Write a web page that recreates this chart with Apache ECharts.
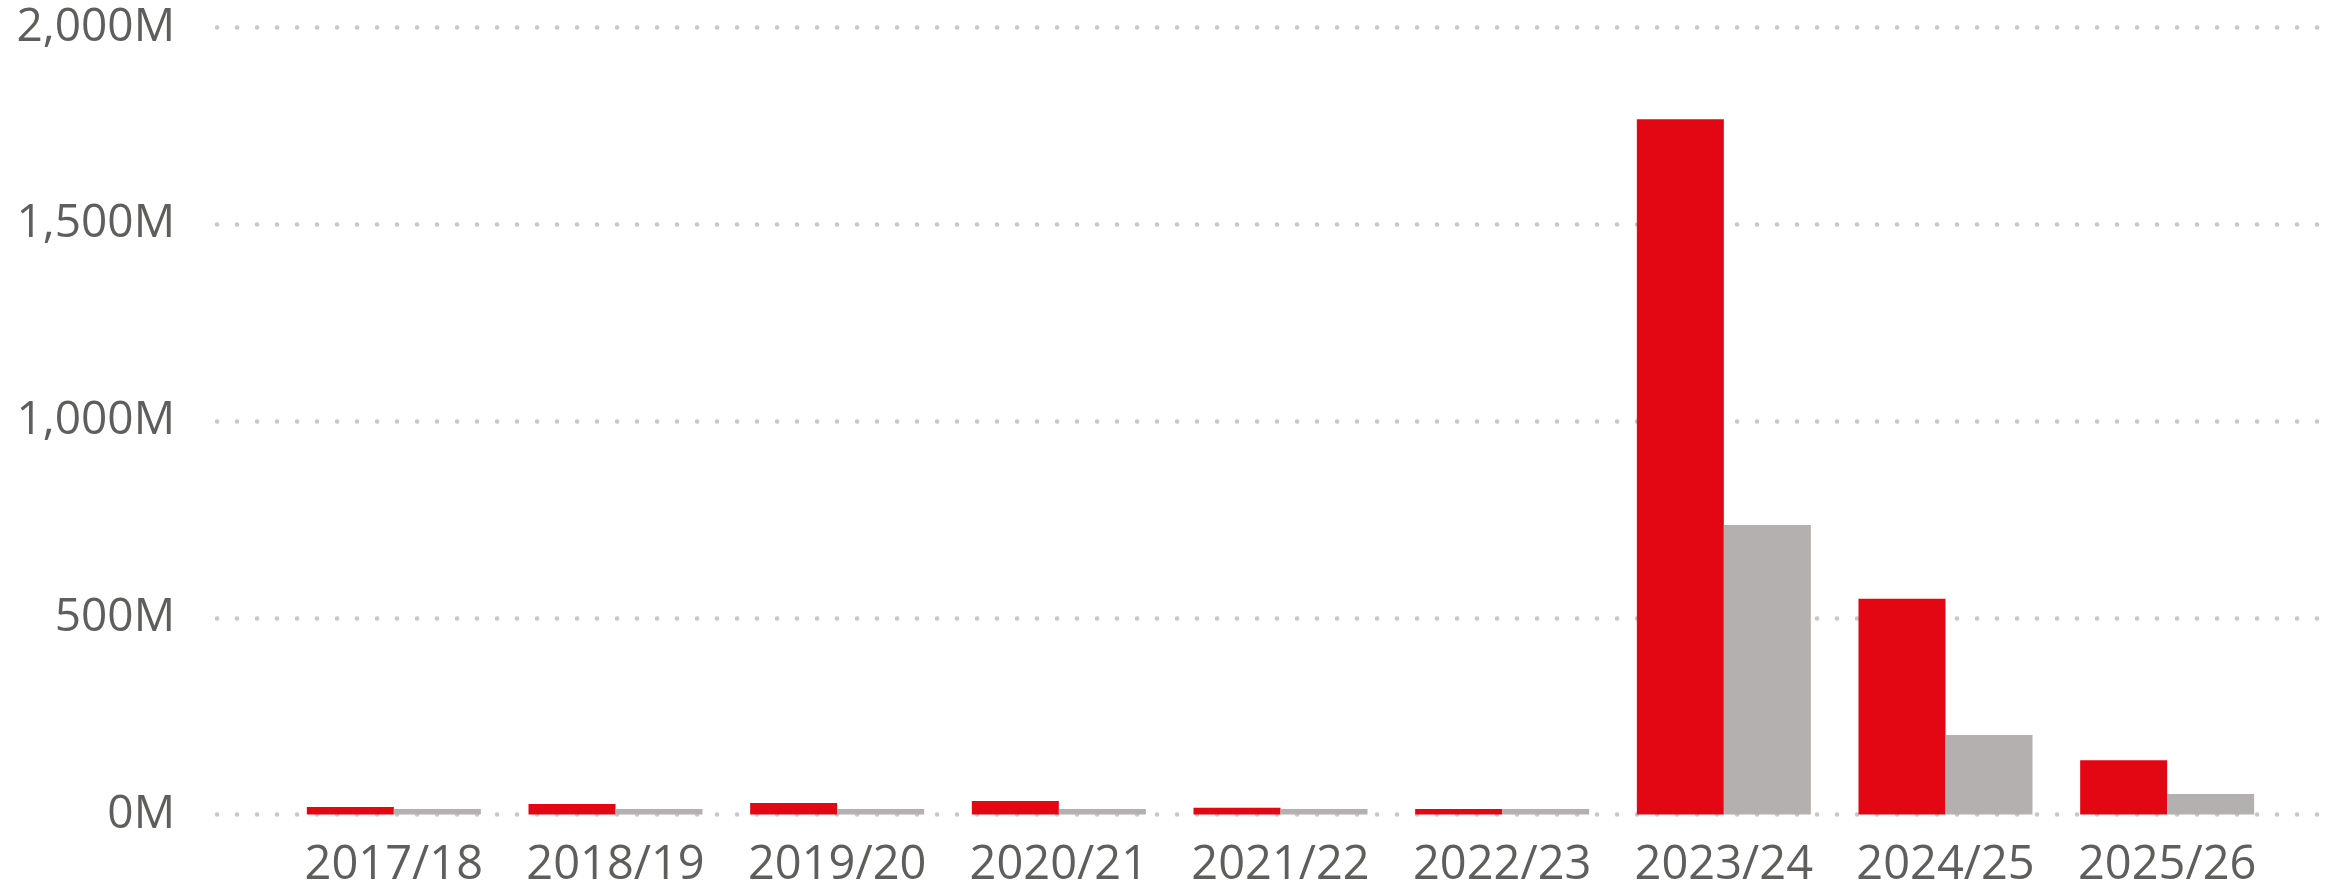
<!DOCTYPE html>
<html>
<head>
<meta charset="utf-8">
<script src="https://cdn.jsdelivr.net/npm/echarts@6/dist/echarts.min.js"></script>
<style>
  html, body { margin: 0; padding: 0; background: #ffffff; }
  #chart { width: 2328px; height: 895px; }
</style>
</head>
<body>
<div id="chart"></div>
<script>
// Fiscal years on the category axis
const categories = ['2017/18', '2018/19', '2019/20', '2020/21', '2021/22', '2022/23', '2023/24', '2024/25', '2025/26'];
// Values in millions
const redValues  = [19, 27, 29, 34, 17, 14, 1767, 548, 138];
const greyValues = [14, 14, 14, 14, 14, 14, 736, 202, 52];
// Value axis ticks (millions)
const yMin = 0;
const yMax = 2000;
const yInterval = 500;

const FONT = '"Open Sans", "Noto Sans", sans-serif';
const TEXT_COLOR = '#605E5C';

const chart = echarts.init(document.getElementById('chart'), null, { renderer: 'canvas' });

const TOP = 27.5;
const BOTTOM = 80.5;

chart.setOption({
  animation: false,
  backgroundColor: '#ffffff',
  grid: [
    // wide grid carrying the value labels and dotted gridlines
    { left: 217, right: 5, top: TOP, bottom: BOTTOM },
    // inner grid where the bars sit
    { left: 283, right: 50, top: TOP, bottom: BOTTOM }
  ],
  xAxis: [
    { type: 'value', gridIndex: 0, show: false, min: 0, max: 1 },
    {
      type: 'category', gridIndex: 1, data: categories,
      axisLine: { show: false }, axisTick: { show: false },
      axisLabel: {
        interval: 0,
        color: TEXT_COLOR, fontFamily: FONT, fontSize: 47,
        lineHeight: 47, margin: 28
      }
    }
  ],
  yAxis: [
    {
      type: 'value', gridIndex: 0, min: yMin, max: yMax, interval: yInterval,
      axisLine: { show: false }, axisTick: { show: false },
      axisLabel: {
        color: TEXT_COLOR, fontFamily: FONT, fontSize: 46, margin: 42,
        formatter: v => v.toLocaleString('en-US') + 'M'
      },
      splitLine: {
        show: true,
        lineStyle: { color: '#C8C8C8', width: 4.5, type: [0.1, 19.9], cap: 'round' }
      }
    },
    {
      type: 'value', gridIndex: 1, min: yMin, max: yMax, interval: yInterval,
      show: false, splitLine: { show: false }
    }
  ],
  series: [
    {
      type: 'bar', name: 'red', xAxisIndex: 1, yAxisIndex: 1,
      data: redValues, barWidth: 87, barGap: '0%',
      itemStyle: { color: '#E30613' }
    },
    {
      type: 'bar', name: 'grey', xAxisIndex: 1, yAxisIndex: 1,
      data: greyValues, barWidth: 87, barGap: '0%',
      itemStyle: { color: '#B3B0AF' }
    }
  ]
});
</script>
</body>
</html>
